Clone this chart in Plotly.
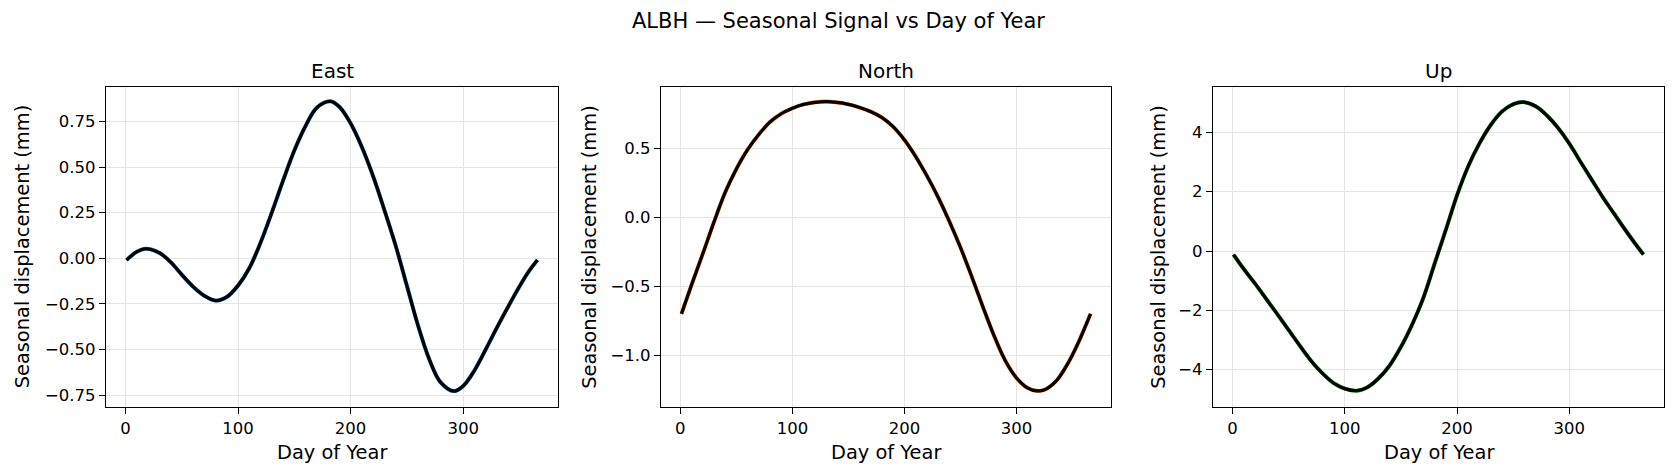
import plotly.graph_objects as go

# ---- data ----
east_days = [1, 10, 18, 30, 40, 50, 60, 70, 80, 90, 100, 110, 120, 130, 140, 150, 160, 170, 182,
             190, 200, 210, 220, 230, 240, 250, 260, 270, 280, 292, 300, 310, 320, 330, 340, 350, 358, 366]
east_vals = [-0.01, 0.035, 0.052, 0.03, -0.02, -0.09, -0.155, -0.205, -0.232, -0.212, -0.15, -0.055,
             0.085, 0.25, 0.425, 0.59, 0.725, 0.825, 0.86, 0.83, 0.74, 0.61, 0.45, 0.265, 0.07, -0.15,
             -0.37, -0.555, -0.68, -0.728, -0.70, -0.615, -0.50, -0.38, -0.265, -0.155, -0.075, -0.01]

north_days = [1, 10, 20, 30, 40, 50, 60, 70, 80, 90, 100, 110, 120, 130, 140, 150, 160, 170, 180,
              190, 200, 210, 220, 230, 240, 250, 260, 270, 280, 290, 300, 310, 318, 325, 335, 345, 355, 366]
north_vals = [-0.70, -0.49, -0.265, -0.035, 0.18, 0.35, 0.49, 0.60, 0.69, 0.75, 0.79, 0.818, 0.833, 0.838,
              0.832, 0.818, 0.795, 0.765, 0.722, 0.655, 0.56, 0.44, 0.30, 0.145, -0.03, -0.22, -0.43,
              -0.65, -0.86, -1.04, -1.165, -1.238, -1.258, -1.25, -1.19, -1.07, -0.91, -0.70]

up_days = [1, 10, 20, 30, 40, 50, 60, 70, 80, 90, 100, 111, 120, 130, 140, 150, 160, 170, 180,
           190, 200, 210, 220, 230, 240, 250, 259, 270, 280, 290, 300, 310, 320, 330, 340, 350, 358, 366]
up_vals = [-0.12, -0.60, -1.09, -1.61, -2.13, -2.66, -3.19, -3.70, -4.12, -4.45, -4.64, -4.71, -4.60,
           -4.30, -3.86, -3.24, -2.48, -1.58, -0.43, 0.71, 1.88, 2.86, 3.63, 4.25, 4.70, 4.95, 5.02,
           4.88, 4.57, 4.15, 3.62, 3.00, 2.40, 1.80, 1.25, 0.70, 0.28, -0.12]

components = ["East", "North", "Up"]
x_ticks = [0, 100, 200, 300]
y_ticks = {
    "East": [-0.75, -0.5, -0.25, 0, 0.25, 0.5, 0.75],
    "North": [-1.0, -0.5, 0.0, 0.5],
    "Up": [-4, -2, 0, 2, 4],
}
y_fmt = {"East": ".2f", "North": ".1f", "Up": "d"}
y_ranges = {"East": [-0.815, 0.94], "North": [-1.375, 0.946], "Up": [-5.26, 5.54]}
colors = {"East": "#1f77b4", "North": "#ff7f0e", "Up": "#2ca02c"}
series = {"East": (east_days, east_vals), "North": (north_days, north_vals), "Up": (up_days, up_vals)}

W, H = 1676, 474
panels_px = [(106, 558), (661, 1111), (1213, 1664)]
top_px, bot_px = 86.7, 407.0
ylab_x_px = [22.5, 590, 1159]
FONT = "DejaVu Sans"

fig = go.Figure()
layout_axes = {}
annotations = []
for i, comp in enumerate(components):
    n = "" if i == 0 else str(i + 1)
    xa, ya = "x" + n, "y" + n
    d, v = series[comp]
    fig.add_trace(go.Scatter(x=d, y=v, mode="lines", xaxis=xa, yaxis=ya,
                             line=dict(color=colors[comp], width=4.0, shape="spline", smoothing=1.0),
                             showlegend=False, hoverinfo="skip"))
    fig.add_trace(go.Scatter(x=d, y=v, mode="lines", xaxis=xa, yaxis=ya,
                             line=dict(color="black", width=3.2, shape="spline", smoothing=1.0),
                             showlegend=False, hoverinfo="skip"))
    l, r = panels_px[i]
    common = dict(showline=True, linecolor="black", linewidth=1.2, mirror=True,
                  ticks="outside", ticklen=6, tickwidth=1.2, tickcolor="black",
                  showgrid=True, gridcolor="#e5e5e5", gridwidth=1, zeroline=False,
                  tickfont=dict(family=FONT, size=16.5, color="black"), automargin=False)
    layout_axes["xaxis" + n] = dict(domain=[l / W, r / W], anchor=ya, range=[-17.25, 384.25],
                                    tickmode="array", tickvals=x_ticks, **common)
    layout_axes["yaxis" + n] = dict(domain=[1 - bot_px / H, 1 - top_px / H], anchor=xa,
                                    range=y_ranges[comp], tickmode="array", tickvals=y_ticks[comp],
                                    tickformat=y_fmt[comp], **common)
    cx = (l + r) / 2 / W
    annotations.append(dict(text=comp, x=cx, y=1 - 71 / H, xref="paper", yref="paper",
                            showarrow=False, xanchor="center", yanchor="middle",
                            font=dict(family=FONT, size=20, color="black")))
    annotations.append(dict(text="Day of Year", x=cx, y=1 - 452.5 / H, xref="paper", yref="paper",
                            showarrow=False, xanchor="center", yanchor="middle",
                            font=dict(family=FONT, size=19.4, color="black")))
    annotations.append(dict(text="Seasonal displacement (mm)", x=ylab_x_px[i] / W,
                            y=1 - (top_px + bot_px) / 2 / H, xref="paper", yref="paper",
                            showarrow=False, xanchor="center", yanchor="middle", textangle=-90,
                            font=dict(family=FONT, size=19.4, color="black")))

annotations.append(dict(text="ALBH — Seasonal Signal vs Day of Year", x=0.5, y=1 - 21 / H,
                        xref="paper", yref="paper", showarrow=False, xanchor="center",
                        yanchor="middle", font=dict(family=FONT, size=21, color="black")))

fig.update_layout(width=W, height=H, margin=dict(l=0, r=0, t=0, b=0),
                  template="none", paper_bgcolor="white", plot_bgcolor="white",
                  annotations=annotations, showlegend=False, **layout_axes)

fig.write_html("out.html")
